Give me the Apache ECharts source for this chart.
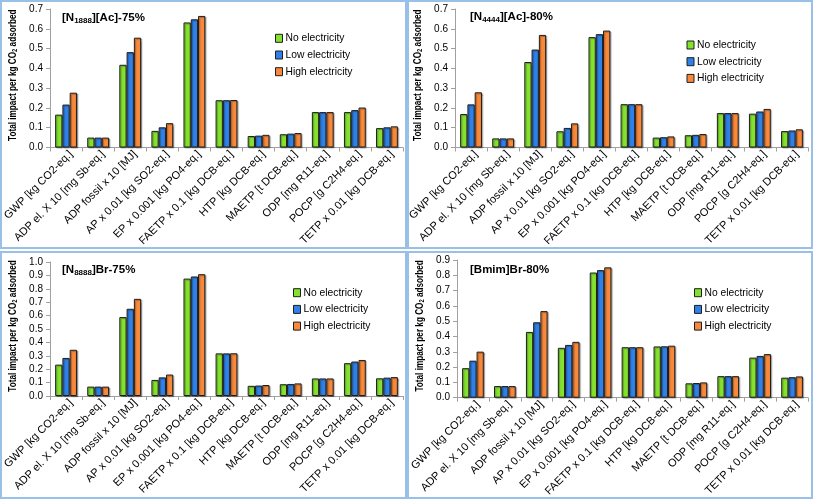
<!DOCTYPE html>
<html>
<head>
<meta charset="utf-8">
<script src="https://cdn.jsdelivr.net/npm/echarts@6/dist/echarts.min.js"></script>
<style>
html,body{margin:0;padding:0;background:#fff;}
#chart{width:815px;height:504px;}
</style>
</head>
<body>
<div id="chart"></div>
<script>
// ---- Data ----
const categories = ['GWP [kg CO2-eq.]', 'ADP el. X 10 [mg Sb-eq.]', 'ADP fossil x 10 [MJ]', 'AP x 0.01 [kg SO2-eq.]', 'EP x 0.001 [kg PO4-eq.]', 'FAETP x 0.1 [kg DCB-eq.]', 'HTP [kg DCB-eq.]', 'MAETP [t DCB-eq.]', 'ODP [mg R11-eq.]', 'POCP [g C2H4-eq.]', 'TETP x 0.01 [kg DCB-eq.]'];
const seriesNames = ['No electricity', 'Low electricity', 'High electricity'];

// Panel 1: [N1888][Ac]-75%
const p1No   = [0.166, 0.050, 0.418, 0.084, 0.632, 0.239, 0.058, 0.067, 0.179, 0.179, 0.098];
const p1Low  = [0.217, 0.050, 0.482, 0.102, 0.648, 0.239, 0.060, 0.070, 0.179, 0.189, 0.102];
const p1High = [0.277, 0.050, 0.555, 0.123, 0.665, 0.240, 0.064, 0.073, 0.179, 0.202, 0.107];
// Panel 2: [N4444][Ac]-80%
const p2No   = [0.169, 0.046, 0.432, 0.082, 0.558, 0.219, 0.050, 0.062, 0.174, 0.171, 0.083];
const p2Low  = [0.218, 0.046, 0.495, 0.099, 0.573, 0.219, 0.052, 0.064, 0.174, 0.182, 0.086];
const p2High = [0.279, 0.046, 0.569, 0.122, 0.591, 0.219, 0.056, 0.068, 0.174, 0.195, 0.092];
// Panel 3: [N8888]Br-75%
const p3No   = [0.234, 0.070, 0.589, 0.120, 0.876, 0.318, 0.076, 0.088, 0.131, 0.245, 0.132];
const p3Low  = [0.284, 0.070, 0.651, 0.139, 0.892, 0.318, 0.078, 0.090, 0.131, 0.257, 0.137];
const p3High = [0.345, 0.070, 0.725, 0.160, 0.909, 0.319, 0.082, 0.094, 0.131, 0.269, 0.141];
// Panel 4: [Bmim]Br-80%
const p4No   = [0.193, 0.076, 0.430, 0.326, 0.818, 0.330, 0.335, 0.094, 0.141, 0.262, 0.131];
const p4Low  = [0.242, 0.076, 0.493, 0.345, 0.834, 0.330, 0.336, 0.096, 0.141, 0.273, 0.134];
const p4High = [0.301, 0.076, 0.566, 0.365, 0.852, 0.330, 0.340, 0.100, 0.141, 0.285, 0.139];

const yMax = [0.7, 0.7, 1.0, 0.9];
const panelTitles = [
  ['[N', '1888', '][Ac]-75%'],
  ['[N', '4444', '][Ac]-80%'],
  ['[N', '8888', ']Br-75%'],
  ['[Bmim]Br-80%', '', '']
];
const yTitle = ['Total impact per kg CO', '2', ' adsorbed'];

// ---- Layout / style ----
const colors = ['#84E12E', '#2F80E7', '#F8883A'];
const grids = [
  {left: 50, top: 9, width: 353, height: 138.5},
  {left: 455, top: 9, width: 353, height: 138.5},
  {left: 50, top: 262, width: 353, height: 134},
  {left: 457, top: 260, width: 351, height: 137.7}
];
const titlePos = [[62, 11], [470, 10], [62, 263], [470, 263]];
const legendPos = [[275, 32.3], [686.5, 39], [293, 286.7], [694, 286.7]];
const panelRects = [[1, 1, 405, 247], [408, 1, 404, 247], [1, 252, 405, 246], [408, 252, 404, 246]];
const data = [[p1No, p1Low, p1High], [p2No, p2Low, p2High], [p3No, p3Low, p3High], [p4No, p4Low, p4High]];

const font = "'Liberation Sans', Arial, sans-serif";
const axisGray = '#a0a0a0';

const xAxes = [], yAxes = [], series = [], titles = [], legends = [], graphics = [];
for (let i = 0; i < 4; i++) {
  xAxes.push({
    type: 'category', gridIndex: i, data: categories,
    axisLine: {lineStyle: {color: axisGray, width: 1}},
    axisTick: {show: true, length: 4, interval: 0, lineStyle: {color: axisGray}},
    axisLabel: {interval: 0, rotate: 45, fontSize: 11, margin: 10, color: '#000', fontFamily: font,
      padding: [0, -7, 0, 0]},
    splitLine: {show: false}
  });
  yAxes.push({
    type: 'value', gridIndex: i, min: 0, max: yMax[i], interval: 0.1,
    axisLine: {show: true, lineStyle: {color: axisGray, width: 1}},
    axisTick: {show: true, length: 4, lineStyle: {color: axisGray}},
    axisLabel: {fontSize: 10, color: '#000', margin: 7, fontFamily: font,
      formatter: v => v.toFixed(1)},
    splitLine: {show: false}
  });
  for (let s = 0; s < 3; s++) {
    series.push({
      type: 'bar', name: seriesNames[s], xAxisIndex: i, yAxisIndex: i,
      data: data[i][s],
      barGap: '0%', barCategoryGap: '32%',
      itemStyle: {color: colors[s], borderColor: '#1e1e1e', borderWidth: 1,
        shadowColor: 'rgba(0,0,0,0.3)', shadowOffsetX: 1.2, shadowOffsetY: 1, shadowBlur: 1},
      emphasis: {disabled: true}
    });
  }
  const t = panelTitles[i];
  let text = '{b|' + t[0] + '}';
  if (t[1]) text += '{s|' + t[1] + '}';
  if (t[2]) text += '{b|' + t[2] + '}';
  titles.push({
    left: titlePos[i][0], top: titlePos[i][1], padding: 0, text: text,
    textStyle: {
      rich: {
        b: {fontSize: 11.5, fontWeight: 'bold', color: '#000', fontFamily: font, lineHeight: 14},
        s: {fontSize: 8, fontWeight: 'bold', color: '#000', fontFamily: font, lineHeight: 6, verticalAlign: 'bottom'}
      }
    }
  });
  legends.push({
    orient: 'vertical', left: legendPos[i][0], top: legendPos[i][1], padding: 0,
    data: seriesNames, icon: 'rect', itemWidth: 7, itemHeight: 8, itemGap: 4.7,
    itemStyle: {borderColor: '#1e1e1e', borderWidth: 1, shadowBlur: 0, shadowOffsetX: 0, shadowOffsetY: 0},
    textStyle: {fontSize: 10.3, color: '#000', fontFamily: font, lineHeight: 12, padding: [0, 0, 0, -2]},
    selectedMode: false
  });
  // rotated, slightly condensed y-axis title
  const g = grids[i];
  graphics.push({
    type: 'text', x: g.left - 37, y: g.top + g.height / 2 - 3,
    rotation: Math.PI / 2, scaleX: 0.78, silent: true,
    style: {
      text: '{a|' + yTitle[0] + '}{s|' + yTitle[1] + '}{a|' + yTitle[2] + '}',
      align: 'center', verticalAlign: 'middle',
      rich: {
        a: {fontSize: 10.5, fontWeight: 'bold', fill: '#000', fontFamily: font, lineHeight: 12},
        s: {fontSize: 7.5, fontWeight: 'bold', fill: '#000', fontFamily: font, lineHeight: 6, verticalAlign: 'bottom'}
      }
    }
  });
}

panelRects.forEach(r => graphics.push({
  type: 'rect', shape: {x: r[0], y: r[1], width: r[2], height: r[3]},
  style: {fill: 'none', stroke: '#98C0E8', lineWidth: 2}, silent: true, z: 100
}));

const chart = echarts.init(document.getElementById('chart'), null, {renderer: 'canvas'});
chart.setOption({
  animation: false,
  backgroundColor: '#fff',
  title: titles,
  legend: legends,
  grid: grids,
  xAxis: xAxes,
  yAxis: yAxes,
  series: series,
  graphic: graphics
});
</script>
</body>
</html>
